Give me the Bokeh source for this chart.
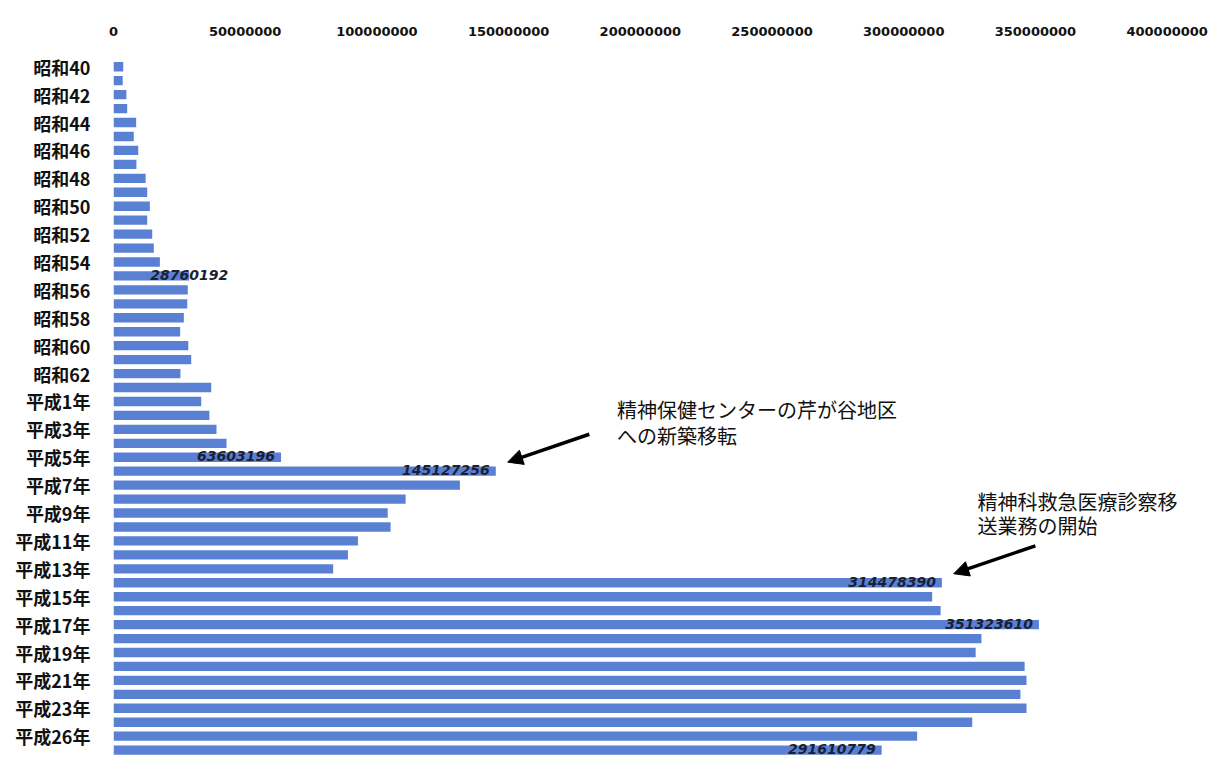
from bokeh.plotting import figure
from bokeh.models import (Range1d, FixedTicker, BasicTickFormatter, Arrow, NormalHead,
                          ColumnDataSource)
from bokeh.core.properties import value
from bokeh.embed import file_html
from bokeh.resources import INLINE

# ---------------- data ----------------
categories = ([f"昭和{y}" for y in range(40, 64)] +
              [f"平成{y}年" for y in range(1, 24)] +
              ["平成25年", "平成26年", "平成27年"])

values = [
    3700000, 3500000, 4900000, 5200000, 8600000, 7700000, 9400000, 8700000,
    12200000, 12800000, 13800000, 12800000, 14700000, 15300000, 17600000,
    28760192, 28200000, 28000000, 26700000, 25300000, 28400000, 29500000,
    25400000, 37100000, 33300000, 36400000, 39100000, 42900000,
    63603196, 145127256, 131500000, 110900000, 104100000, 105200000,
    92800000, 89000000, 83400000,
    314478390, 310800000, 314000000, 351323610, 329500000, 327300000,
    345900000, 346600000, 344300000, 346600000, 326000000, 305100000,
    291610779,
]

labeled_years = ["昭和55", "平成5年", "平成6年", "平成14年", "平成17年", "平成27年"]

x_ticks = [0, 50000000, 100000000, 150000000, 200000000, 250000000,
           300000000, 350000000, 400000000]

note1_year = "平成6年"
note1_lines = ["精神保健センターの芹が谷地区", "への新築移転"]
note2_year = "平成14年"
note2_lines = ["精神科救急医療診察移", "送業務の開始"]

# ---------------- figure ----------------
idx = list(range(len(categories)))
p = figure(width=1223, height=758, output_backend="svg", toolbar_location=None,
           x_range=Range1d(0, 410000000), y_range=Range1d(49.6, -0.95),
           x_axis_location="above", min_border_left=113, min_border_right=30,
           min_border_top=53, min_border_bottom=0)
p.outline_line_color = None
p.grid.grid_line_color = None
p.background_fill_color = "white"
p.border_fill_color = "white"

src = ColumnDataSource(dict(y=idx, v=values))
p.hbar(y="y", left=0, right="v", height=0.67, source=src,
       fill_color="#5A80D4", line_color=None)

# x axis (top)
xa = p.xaxis[0]
xa.ticker = FixedTicker(ticks=x_ticks)
xa.formatter = BasicTickFormatter(use_scientific=False)
xa.axis_line_color = None
xa.major_tick_line_color = None
xa.minor_tick_line_color = None
xa.major_label_standoff = 12
xa.major_label_text_font = "DejaVu Sans"
xa.major_label_text_font_style = "bold"
xa.major_label_text_font_size = "13px"
xa.major_label_text_color = "#111111"

# y axis (left) every other category
ya = p.yaxis[0]
ticks = list(range(0, len(categories) - 1, 2))
ya.ticker = FixedTicker(ticks=ticks)
ya.major_label_overrides = {i: categories[i] for i in ticks}
ya.axis_line_color = None
ya.major_tick_line_color = None
ya.minor_tick_line_color = None
ya.major_label_standoff = 17
ya.major_label_text_font = "Noto Sans CJK JP"
ya.major_label_text_font_style = "bold"
ya.major_label_text_font_size = "18px"
ya.major_label_text_color = "#111111"

# value labels
li = [categories.index(c) for c in labeled_years]
lv = [values[i] for i in li]
ltxt = [str(v) for v in lv]
lalign = ["center" if v < 40000000 else "right" for v in lv]
loff = [0 if v < 40000000 else -6 for v in lv]
lsrc = ColumnDataSource(dict(x=lv, y=li, t=ltxt, a=lalign, o=loff))
p.text(x="x", y="y", text="t", source=lsrc, text_align="a", x_offset="o",
       y_offset=-1, text_baseline="middle", text_font=value("DejaVu Sans"),
       text_font_style="bold italic", text_font_size="14px",
       text_color="#1a1f33")

# annotations
def note(year, lines, dx_text, dy_text, line_step):
    i = categories.index(year)
    v = values[i]
    hx, hy = v + 4500000, i - 0.65
    p.add_layout(Arrow(end=NormalHead(size=15, fill_color="black", line_color="black"),
                       x_start=hx + 31000000, y_start=hy - 2.0, x_end=hx, y_end=hy,
                       line_width=3.5, line_color="black"))
    for k, s in enumerate(lines):
        p.text(x=[v + dx_text], y=[i + dy_text + line_step * k], text=[s],
               text_align="left", text_baseline="middle",
               text_font=value("Noto Sans CJK JP"), text_font_size="20px",
               text_color="#111111")

note(note1_year, note1_lines, 46000000, -4.4, 1.85)
note(note2_year, note2_lines, 13500000, -5.8, 1.72)

open("out.html", "w").write(file_html(p, INLINE))
